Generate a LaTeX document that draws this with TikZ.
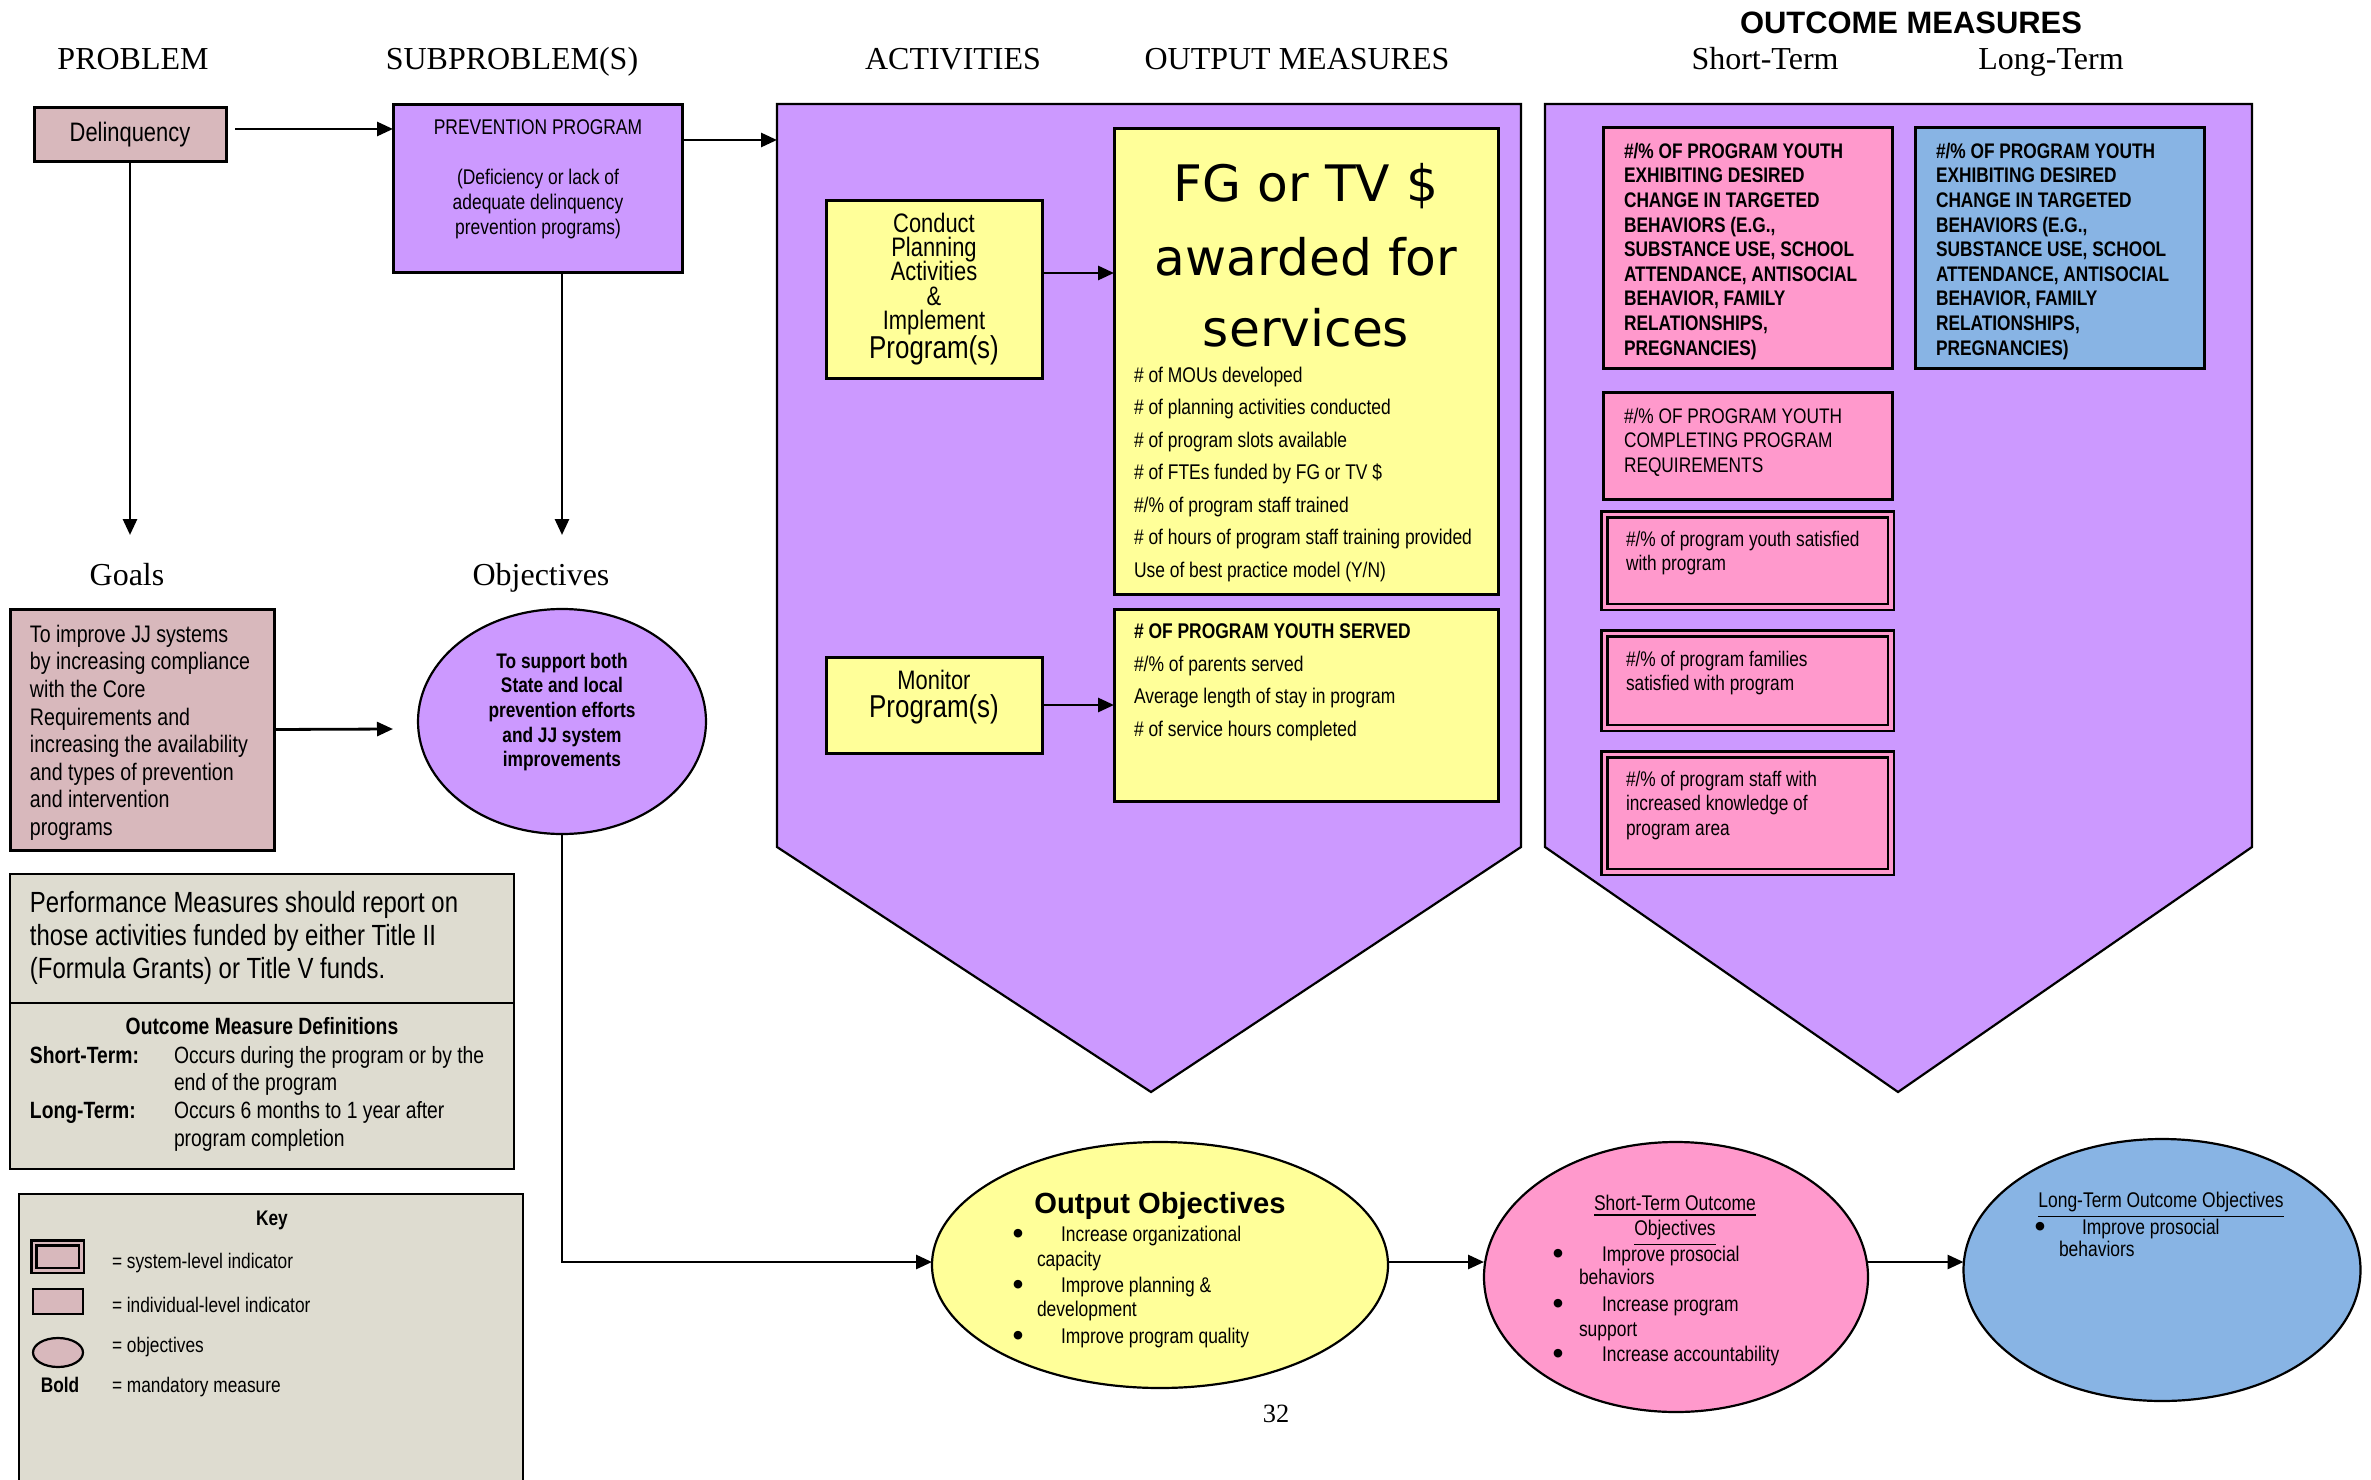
\documentclass[tikz,border=0pt]{standalone}
\usepackage{fontspec}
\setmainfont{Liberation Serif}
\newfontfamily\nar[FakeStretch=0.82]{Liberation Sans}
\newfontfamily\ari{Liberation Sans}
\newfontfamily\fgf{DejaVu Sans}
\usetikzlibrary{arrows.meta,shapes.geometric}
\newcommand\myfs[2]{\fontsize{#1pt}{#2pt}\selectfont\lineskiplimit=-20pt}
\definecolor{delc}{RGB}{216,184,188}
\definecolor{purc}{RGB}{204,153,255}
\definecolor{yelc}{RGB}{255,255,153}
\definecolor{pinc}{RGB}{255,153,204}
\definecolor{bluc}{RGB}{136,180,228}
\definecolor{grec}{RGB}{222,220,208}
\begin{document}
\begin{tikzpicture}[x=0.1mm,y=-0.1mm,
 box/.style={draw,line width=0.3mm,inner sep=0,outer sep=0},
 dbox/.style={draw,line width=0.25mm,double=pinc,double distance=0.35mm,fill=pinc,inner sep=0,outer sep=0},
 ell/.style={ellipse,draw,line width=0.22mm,inner sep=0,outer sep=0},
 arr/.style={line width=0.28mm,-{Triangle[length=1.6mm,width=1.4mm]}},
 ln/.style={line width=0.22mm},
 txt/.style={inner sep=0,outer sep=0},
 hdr/.style={txt,anchor=base,font=\myfs{9.1}{11}},
 sm/.style={txt,font=\nar\myfs{6.05}{7.1}},
 bul/.style={txt,anchor=base,font=\ari\bfseries\myfs{8.5}{9}},
 df/.style={txt,anchor=base west,font=\nar\myfs{6.7}{7.8}},
 ky/.style={txt,anchor=base west,font=\nar\myfs{6}{7}},
 ob/.style={txt,anchor=north west,align=left,font=\nar\myfs{6.0}{7.0}},
]
\useasboundingbox (0,0) rectangle (2371,1480);
% headers
\node[hdr] (hP) at (133,70) {PROBLEM};
\node[hdr] (hS) at (512,70) {SUBPROBLEM(S)};
\node[hdr] (hA) at (953,70) {ACTIVITIES};
\node[hdr] (hO) at (1297,70) {OUTPUT MEASURES};
\node[hdr] (hST) at (1765,70) {Short-Term};
\node[hdr] (hLT) at (2051,70) {Long-Term};
\node[txt,anchor=base,font=\ari\bfseries\myfs{8.8}{11}] (hOM) at (1911,34) {OUTCOME MEASURES};
\node[hdr] (hG) at (127,585) {Goals};
\node[hdr] (hOb) at (541,585) {Objectives};
% pentagons
\draw[ln,fill=purc] (777,104) -- (1521,104) -- (1521,847) -- (1151,1092) -- (777,847) -- cycle;
\draw[ln,fill=purc] (1545,104) -- (2252,104) -- (2252,847) -- (1898,1092) -- (1545,847) -- cycle;
\coordinate (actL) at (777,140);
% left column
\node[box,fill=delc,minimum width=19.2mm,minimum height=5.4mm,font=\nar\myfs{7.6}{9}] (delin) at (130,135) {Delinquency};
\node[box,fill=purc,minimum width=28.9mm,minimum height=16.8mm] (prev) at (537.5,189) {};
\node[txt,anchor=north,align=center,font=\nar\myfs{6.05}{7.1}] (tprev) at (538,120) {PREVENTION PROGRAM\\[7.1pt](Deficiency or lack of\\adequate delinquency\\prevention programs)};
\node[box,fill=delc,minimum width=26.4mm,minimum height=24.1mm] (goals) at (142,729.5) {};
\node[txt,anchor=north west,align=left,font=\nar\myfs{6.8}{7.85}] (tgoals) at (30,625) {To improve JJ systems\\by increasing compliance\\with the Core\\Requirements and\\increasing the availability\\and types of prevention\\and intervention\\programs};
\node[ell,fill=purc,minimum width=28.8mm,minimum height=22.5mm] (objell) at (562,721.5) {};
\node[txt,anchor=north,align=center,font=\nar\bfseries\myfs{6.0}{7.0}] (tobj) at (562,653) {To support both\\State and local\\prevention efforts\\and JJ system\\improvements};
% performance box
\node[draw,line width=0.22mm,fill=grec,inner sep=0,minimum width=50.4mm,minimum height=29.5mm] (perf) at (262,1021.5) {};
\draw[ln] (10,1003) -- (514,1003);
\node[txt,anchor=north west,align=left,font=\nar\myfs{8.3}{9.4}] (tperf) at (30,891) {Performance Measures should report on\\those activities funded by either Title II\\(Formula Grants) or Title V funds.};
\node[txt,anchor=base,font=\nar\bfseries\myfs{6.7}{7.8}] (tdef) at (262,1034) {Outcome Measure Definitions};
\node[df,font=\nar\bfseries\myfs{6.7}{7.8}] (dS) at (30,1063) {Short-Term:};
\node[df] (dS1) at (174,1063) {Occurs during the program or by the};
\node[df] (dS2) at (174,1090) {end of the program};
\node[df,font=\nar\bfseries\myfs{6.7}{7.8}] (dL) at (30,1118) {Long-Term:};
\node[df] (dL1) at (174,1118) {Occurs 6 months to 1 year after};
\node[df] (dL2) at (174,1146) {program completion};
% key box
\draw[ln,fill=grec] (19,1194) rectangle (523,1520);
\node[txt,anchor=base,font=\nar\bfseries\myfs{6}{7}] (tkey) at (272,1225) {Key};
\node[draw,line width=0.25mm,double=delc,double distance=0.25mm,fill=delc,inner sep=0,minimum width=4.75mm,minimum height=2.75mm] (k1) at (57.5,1256.5) {};
\node[draw,line width=0.22mm,fill=delc,inner sep=0,minimum width=5mm,minimum height=2.5mm] (k2) at (58,1301.5) {};
\node[ell,fill=delc,minimum width=5mm,minimum height=2.9mm] (k3) at (58,1352.5) {};
\node[txt,anchor=base,font=\nar\bfseries\myfs{6}{7}] (k4) at (60,1392.5) {Bold};
\node[ky] (tk1) at (112,1268.5) {= system-level indicator};
\node[ky] (tk2) at (112,1312.5) {= individual-level indicator};
\node[ky] (tk3) at (112,1352.5) {= objectives};
\node[ky] (tk4) at (112,1392.5) {= mandatory measure};
% activities
\node[box,fill=yelc,minimum width=21.6mm,minimum height=17.8mm] (conduct) at (934,290) {};
\node[txt,anchor=north,align=center,font=\nar\myfs{7.6}{6.9}] (tcond) at (934,213) {Conduct\\Planning\\Activities\\\&\\Implement};
\node[txt,anchor=base,font=\nar\myfs{9}{10}] (tcond2) at (934,359) {Program(s)};
\node[box,fill=yelc,minimum width=21.6mm,minimum height=9.6mm] (monitor) at (934,705) {};
\node[txt,anchor=base,font=\nar\myfs{7.6}{9}] (tmon) at (934,689) {Monitor};
\node[txt,anchor=base,font=\nar\myfs{9}{10}] (tmon2) at (934,717) {Program(s)};
\node[box,fill=yelc,minimum width=38.4mm,minimum height=46.6mm] (fg) at (1306,362) {};
\node[txt,anchor=base,font=\fgf\myfs{14.3}{17}] (fg1) at (1306,202) {FG or TV \$};
\node[txt,anchor=base,font=\fgf\myfs{14.3}{17}] (fg2) at (1306,276) {awarded for};
\node[txt,anchor=base,font=\fgf\myfs{14.3}{17}] (fg3) at (1306,347) {services};
\node[txt,anchor=north west,align=left,font=\nar\myfs{6.05}{9.25}] (tlist) at (1134,367) {\# of MOUs developed\\\# of planning activities conducted\\\# of program slots available\\\# of FTEs funded by FG or TV \$\\\#/\% of program staff trained\\\# of hours of program staff training provided\\Use of best practice model (Y/N)};
\node[box,fill=yelc,minimum width=38.4mm,minimum height=19.2mm] (box2) at (1306,705) {};
\node[txt,anchor=north west,align=left,font=\nar\myfs{6.05}{9.25}] (tlist2) at (1134,624) {\textbf{\# OF PROGRAM YOUTH SERVED}\\\#/\% of parents served\\Average length of stay in program\\\# of service hours completed};
% outcome boxes
\node[box,fill=pinc,minimum width=28.9mm,minimum height=24.1mm] (oA) at (1747.5,248.5) {};
\node[ob,font=\nar\bfseries\myfs{6.0}{7.0}] (toA) at (1624,143) {\#/\% OF PROGRAM YOUTH\\EXHIBITING DESIRED\\CHANGE IN TARGETED\\BEHAVIORS (E.G.,\\SUBSTANCE USE, SCHOOL\\ATTENDANCE, ANTISOCIAL\\BEHAVIOR, FAMILY\\RELATIONSHIPS,\\PREGNANCIES)};
\node[box,fill=bluc,minimum width=28.9mm,minimum height=24.1mm] (oB) at (2059.5,248.5) {};
\node[ob,font=\nar\bfseries\myfs{6.0}{7.0}] (toB) at (1936,143) {\#/\% OF PROGRAM YOUTH\\EXHIBITING DESIRED\\CHANGE IN TARGETED\\BEHAVIORS (E.G.,\\SUBSTANCE USE, SCHOOL\\ATTENDANCE, ANTISOCIAL\\BEHAVIOR, FAMILY\\RELATIONSHIPS,\\PREGNANCIES)};
\node[box,fill=pinc,minimum width=28.9mm,minimum height=10.6mm] (oC) at (1747.5,446) {};
\node[ob] (toC) at (1624,408) {\#/\% OF PROGRAM YOUTH\\COMPLETING PROGRAM\\REQUIREMENTS};
\node[dbox,minimum width=28.65mm,minimum height=9.25mm] (oD) at (1747.5,560.5) {};
\node[ob] (toD) at (1626,531) {\#/\% of program youth satisfied\\with program};
\node[dbox,minimum width=28.65mm,minimum height=9.45mm] (oE) at (1747.5,680.5) {};
\node[ob] (toE) at (1626,651) {\#/\% of program families\\satisfied with program};
\node[dbox,minimum width=28.65mm,minimum height=11.75mm] (oF) at (1747.5,813) {};
\node[ob] (toF) at (1626,771) {\#/\% of program staff with\\increased knowledge of\\program area};
% bottom ellipses
\node[ell,fill=yelc,minimum width=45.6mm,minimum height=24.6mm] (outell) at (1160,1265) {};
\node[txt,anchor=base,font=\ari\bfseries\myfs{8.3}{10}] (tout) at (1160,1213) {Output Objectives};
\node[bul] (b1) at (1018,1243) {\textbullet};
\node[sm,anchor=base west] (u1) at (1061,1241) {Increase organizational};
\node[sm,anchor=base west] (u1b) at (1037,1266) {capacity};
\node[bul] (b2) at (1018,1294) {\textbullet};
\node[sm,anchor=base west] (u2) at (1061,1292) {Improve planning \&};
\node[sm,anchor=base west] (u2b) at (1037,1316) {development};
\node[bul] (b3) at (1018,1345) {\textbullet};
\node[sm,anchor=base west] (u3) at (1061,1343) {Improve program quality};
\node[ell,fill=pinc,minimum width=38.4mm,minimum height=27.0mm] (pinkell) at (1676,1277) {};
\node[sm,anchor=base] (tpk1) at (1675,1210) {\underline{Short-Term Outcome}};
\node[sm,anchor=base] (tpk2) at (1675,1235) {\underline{Objectives}};
\node[bul] (pb1) at (1558,1263) {\textbullet};
\node[sm,anchor=base west] (p1) at (1602,1261) {Improve prosocial};
\node[sm,anchor=base west] (p1b) at (1579,1284) {behaviors};
\node[bul] (pb2) at (1558,1313) {\textbullet};
\node[sm,anchor=base west] (p2) at (1602,1311) {Increase program};
\node[sm,anchor=base west] (p2b) at (1579,1336) {support};
\node[bul] (pb3) at (1558,1363) {\textbullet};
\node[sm,anchor=base west] (p3) at (1602,1361) {Increase accountability};
\node[ell,fill=bluc,minimum width=39.7mm,minimum height=26.2mm] (blueell) at (2162,1270) {};
\node[sm,anchor=base] (tbl) at (2161,1207) {\underline{Long-Term Outcome Objectives}};
\node[bul] (bb1) at (2040,1236) {\textbullet};
\node[sm,anchor=base west] (q1) at (2082,1234) {Improve prosocial};
\node[sm,anchor=base west] (q1b) at (2059,1256) {behaviors};
\node[txt,anchor=base,font=\myfs{7.5}{9}] (page) at (1276,1422) {32};
% connectors
\coordinate (g1) at (130,535);
\coordinate (o1) at (562,535);
\coordinate (gEnd) at (393,729);
\draw[arr] ([xshift=0.9mm,yshift=0.6mm]delin.east) -- ([yshift=0.6mm]delin.east -| prev.west);
\draw[arr] (prev.east |- actL) -- (actL);
\draw[arr] (delin.south) -- (g1);
\draw[arr] (prev.south -| o1) -- (o1);
\draw[arr] (goals.east) -- (gEnd);
\draw[arr] (objell.south) |- ([yshift=0.3mm]outell.west);
\draw[arr] ([yshift=1.7mm]conduct.east) -- ([yshift=1.7mm]conduct.east -| fg.west);
\draw[arr] (monitor.east) -- (monitor.east -| box2.west);
\draw[arr] ([yshift=0.3mm]outell.east) -- ([yshift=0.3mm]outell.east -| pinkell.west);
\draw[arr] ([yshift=1.5mm]pinkell.east) -- ([yshift=1.5mm]pinkell.east -| blueell.west);
\end{tikzpicture}
\end{document}
